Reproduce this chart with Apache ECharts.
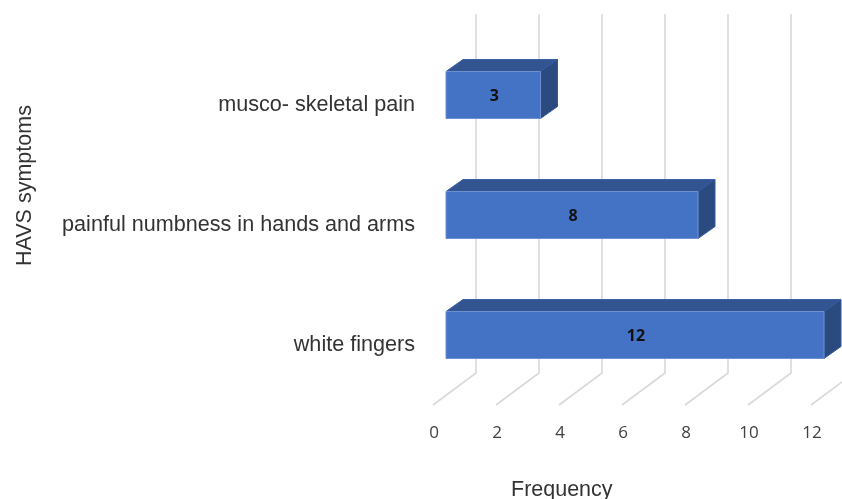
<!DOCTYPE html>
<html>
<head>
<meta charset="utf-8">
<style>html,body{margin:0;padding:0;background:#fff}#c{width:842px;height:499px}</style>
<script src="https://cdn.jsdelivr.net/npm/echarts@6/dist/echarts.min.js"></script>
</head>
<body>
<div id="c"></div>
<script>
// HAVS symptom frequencies, bottom row first
const categories = ['white fingers', 'painful numbness in hands and arms', 'musco- skeletal pain'];
const frequencies = [12, 8, 3];
const xTicks = [0, 2, 4, 6, 8, 10, 12];

// Pseudo-3D offsets, in pixels
const WALL = { dx: 43, dy: -32, top: 14 };
const BAR_BASE = { dx: 13, dy: -10 };
const BAR_DEPTH = { dx: 17, dy: -12 };
const BAR_HEIGHT = 47;

const chart = echarts.init(document.getElementById('c'), null, { renderer: 'canvas' });

function renderGridLine(params, api) {
  const p = api.coord([api.value(0), 0]);
  const floorY = params.coordSys.y + params.coordSys.height;
  const x0 = p[0], y0 = floorY;
  const x1 = x0 + WALL.dx, y1 = y0 + WALL.dy;
  return {
    type: 'polyline',
    silent: true,
    shape: { points: [[x0, y0], [x1, y1], [x1, WALL.top]] },
    style: { fill: null, stroke: '#d9d9d9', lineWidth: 1.6 }
  };
}

function renderBar(params, api) {
  const start = api.coord([0, api.value(1)]);
  const end = api.coord([api.value(0), api.value(1)]);
  const xl = start[0] + BAR_BASE.dx;
  const xr = end[0] + BAR_BASE.dx;
  const cy = start[1] + BAR_BASE.dy;
  const yt = cy - BAR_HEIGHT / 2;
  const yb = cy + BAR_HEIGHT / 2;
  const d = BAR_DEPTH;
  return {
    type: 'group',
    children: [
      {
        type: 'polygon',
        shape: { points: [[xl, yt], [xl + d.dx, yt + d.dy], [xr + d.dx, yt + d.dy], [xr, yt]] },
        style: { fill: '#325592', stroke: '#3a62a8', lineWidth: 1 }
      },
      {
        type: 'polygon',
        shape: { points: [[xr, yt], [xr + d.dx, yt + d.dy], [xr + d.dx, yb + d.dy], [xr, yb]] },
        style: { fill: '#2a4a80', stroke: '#335a9c', lineWidth: 1 }
      },
      {
        type: 'rect',
        shape: { x: xl, y: yt, width: xr - xl, height: BAR_HEIGHT },
        style: { fill: '#4472c4', stroke: '#6c90d2', lineWidth: 1 }
      },
      {
        type: 'text',
        style: {
          x: (xl + xr) / 2 + 1,
          y: cy + 1,
          text: String(api.value(0)),
          align: 'center',
          verticalAlign: 'middle',
          fill: '#111',
          font: 'bold 16px "Open Sans", "Noto Sans", sans-serif'
        }
      }
    ]
  };
}

chart.setOption({
  animation: false,
  backgroundColor: '#fff',
  grid: { left: 433, right: 31, top: 45, bottom: 94 },
  xAxis: {
    type: 'value',
    min: 0,
    max: 12,
    interval: 2,
    axisLine: { show: false },
    axisTick: { show: false },
    splitLine: { show: false },
    axisLabel: {
      margin: 20,
      padding: [0, 0, 0, 2],
      color: '#404040',
      fontSize: 17,
      fontFamily: '"Open Sans", "Noto Sans", sans-serif',
      formatter: (v) => (xTicks.includes(v) ? String(v) : '')
    }
  },
  yAxis: {
    type: 'category',
    data: categories,
    axisLine: { show: false },
    axisTick: { show: false },
    axisLabel: {
      margin: 18,
      padding: [2, 0, 0, 0],
      color: '#333',
      fontSize: 21.6,
      fontFamily: '"Liberation Sans", Arial, sans-serif'
    }
  },
  series: [
    {
      type: 'custom',
      clip: false,
      z: 1,
      silent: true,
      renderItem: renderGridLine,
      encode: { x: 0 },
      data: xTicks.map((v) => [v])
    },
    {
      type: 'custom',
      clip: false,
      z: 2,
      renderItem: renderBar,
      encode: { x: 0, y: 1 },
      data: frequencies.map((v, i) => [v, i])
    }
  ],
  graphic: [
    {
      type: 'text',
      left: 511,
      top: 479,
      style: { text: 'Frequency', fill: '#333', font: '21.5px "Liberation Sans", Arial, sans-serif' }
    },
    {
      type: 'text',
      rotation: Math.PI / 2,
      x: 14,
      y: 266,
      style: { text: 'HAVS symptoms', fill: '#333', font: '21.5px "Liberation Sans", Arial, sans-serif' }
    }
  ]
});
</script>
</body>
</html>
